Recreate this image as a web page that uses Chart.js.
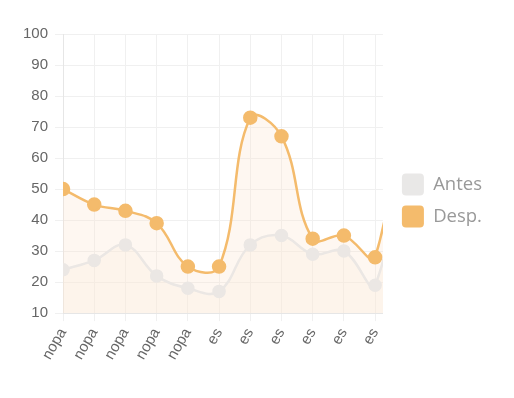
<!DOCTYPE html>
<html>
<head>
<meta charset="utf-8">
<script src="https://cdn.jsdelivr.net/npm/chart.js@4"></script>
<style>
  html, body { margin: 0; padding: 0; background: #fff; }
  #wrap { width: 514px; height: 398px; }
</style>
</head>
<body>
<div id="wrap"><canvas id="chart"></canvas></div>
<script>
var labels = ['nopa', 'nopa', 'nopa', 'nopa', 'nopa', 'es', 'es', 'es', 'es', 'es', 'es', 'es'];
var antes = [24, 27, 32, 22, 18, 17, 32, 35, 29, 30, 19, 80];
var desp = [50, 45, 43, 39, 25, 25, 73, 67, 34, 35, 28, 100];
var yTicks = [10, 20, 30, 40, 50, 60, 70, 80, 90, 100];

function toPoints(values) {
    return values.map(function (v, i) { return { x: i, y: v }; });
}

// leave a bit more room between the plot and the legend
var LEGEND_GAP = 9;
var legendGap = {
    id: 'legendGap',
    afterInit: function (chart) {
        var legend = chart.legend;
        if (!legend) return;
        var origFit = legend.fit;
        legend.fit = function () {
            origFit.call(this);
            this.width += LEGEND_GAP;
        };
    },
    afterLayout: function (chart) {
        if (chart.legend) chart.legend.left += LEGEND_GAP;
    }
};

new Chart(document.getElementById('chart'), {
    type: 'line',
    data: {
        datasets: [{
            label: 'Antes',
            data: toPoints(antes),
            borderColor: '#ebe7e4',
            backgroundColor: 'rgba(250, 235, 220, 0.25)',
            pointBackgroundColor: '#ebe7e4',
            pointBorderColor: '#ebe7e4',
            borderWidth: 2.5,
            pointRadius: 5.5,
            tension: 0.4,
            fill: 'origin'
        }, {
            label: 'Desp.',
            data: toPoints(desp),
            borderColor: '#f4bb6c',
            backgroundColor: 'rgba(250, 225, 200, 0.25)',
            pointBackgroundColor: '#f4bb6c',
            pointBorderColor: '#f4bb6c',
            borderWidth: 2.5,
            pointRadius: 6,
            tension: 0.4,
            fill: 'origin'
        }]
    },
    options: {
        responsive: true,
        maintainAspectRatio: false,
        animation: false,
        layout: { padding: { top: 34, bottom: 31, left: 16, right: 22 } },
        plugins: {
            tooltip: { enabled: false },
            legend: {
                position: 'right',
                labels: {
                    boxWidth: 22,
                    boxHeight: 22,
                    padding: 10,
                    color: '#999',
                    useBorderRadius: true,
                    borderRadius: 4,
                    font: { family: "'Open Sans', sans-serif", size: 18.5 },
                    generateLabels: function (chart) {
                        var items = Chart.defaults.plugins.legend.labels.generateLabels(chart);
                        items.forEach(function (item, i) {
                            var ds = chart.data.datasets[i];
                            item.fillStyle = i === 0 ? '#e9e8e7' : ds.borderColor;
                            item.strokeStyle = item.fillStyle;
                            item.lineWidth = 0;
                        });
                        return items;
                    }
                }
            }
        },
        scales: {
            x: {
                type: 'linear',
                min: 0,
                max: 10.25,
                grid: { color: '#f0f0f0', tickLength: 8 },
                border: { color: '#e6e6e6' },
                ticks: {
                    stepSize: 1,
                    includeBounds: false,
                    autoSkip: false,
                    minRotation: 60,
                    maxRotation: 60,
                    padding: 4,
                    color: '#666',
                    font: { family: "'Liberation Sans', Arial, sans-serif", size: 15 },
                    callback: function (value) {
                        return Number.isInteger(value) ? labels[value] : '';
                    }
                }
            },
            y: {
                min: yTicks[0],
                max: yTicks[yTicks.length - 1],
                grid: { color: '#f0f0f0', tickLength: 8 },
                border: { color: '#e6e6e6' },
                afterBuildTicks: function (scale) {
                    scale.ticks = yTicks.map(function (v) { return { value: v }; });
                },
                ticks: {
                    padding: 7,
                    color: '#666',
                    font: { family: "'Liberation Sans', Arial, sans-serif", size: 15 }
                }
            }
        }
    },
    plugins: [legendGap]
});
</script>
</body>
</html>
